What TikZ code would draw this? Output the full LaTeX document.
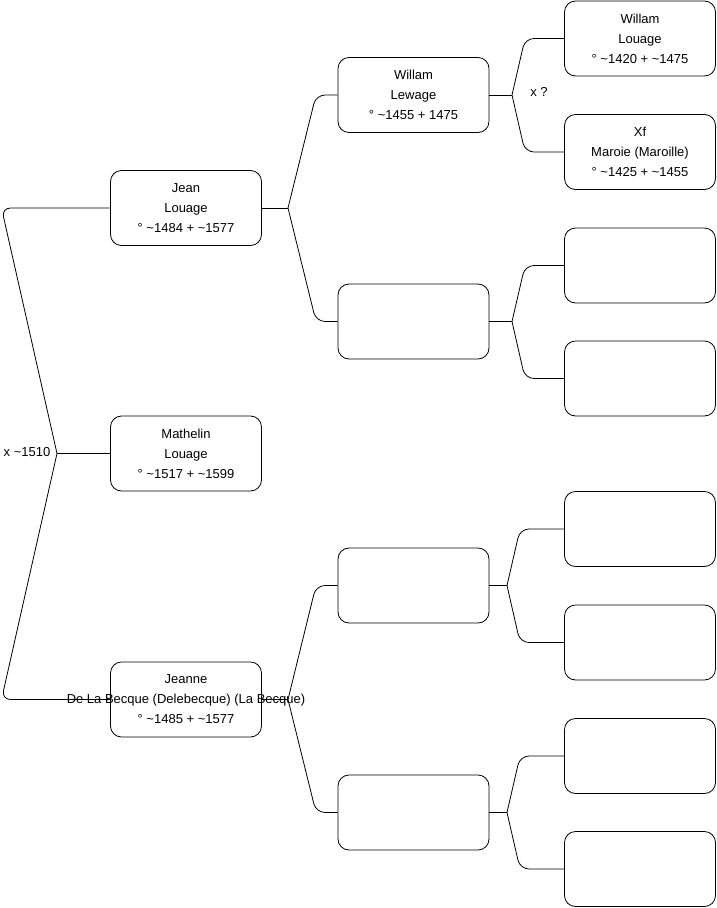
\documentclass[tikz,border=0pt]{standalone}
\usepackage{fontspec}
\setmainfont{Liberation Sans}
\begin{document}
\begin{tikzpicture}[x=1pt,y=-1pt,
 person/.style={draw, line width=0.8pt, rounded corners=11pt, minimum width=151pt, minimum height=75pt, align=center, font=\fontsize{13}{20}\selectfont, inner sep=0pt},
 link/.style={draw, line width=0.8pt, rounded corners=9pt},
 lbl/.style={font=\fontsize{13}{14}\selectfont, inner sep=0pt}]
\useasboundingbox (0,0) rectangle (716,908);
% level 1
\node[person] (j)  at (186,208)   {Jean\\Louage\\° \textasciitilde1484 + \textasciitilde1577};
\node[person] (m)  at (186,453.5) {Mathelin\\Louage\\° \textasciitilde1517 + \textasciitilde1599};
\node[person] (jn) at (186,699.5) {Jeanne\\\makebox[0pt][c]{De La Becque (Delebecque) (La Becque)}\\° \textasciitilde1485 + \textasciitilde1577};
% level 2
\node[person] (w)  at (413.5,95)    {Willam\\Lewage\\° \textasciitilde1455 + 1475};
\node[person] (b2) at (413.5,321.5) {};
\node[person] (b3) at (413.5,585.5) {};
\node[person] (b4) at (413.5,812.5) {};
% level 3
\node[person] (wl) at (640,38.5)  {Willam\\Louage\\° \textasciitilde1420 + \textasciitilde1475};
\node[person] (xf) at (640,152)   {Xf\\Maroie (Maroille)\\° \textasciitilde1425 + \textasciitilde1455};
\node[person] (c3) at (640,265.5) {};
\node[person] (c4) at (640,378.5) {};
\node[person] (c5) at (640,529)   {};
\node[person] (c6) at (640,642.5) {};
\node[person] (c7) at (640,756)   {};
\node[person] (c8) at (640,869)   {};
% root links
\coordinate (f0) at (57,453.5);
\draw[link] (m.west) -- (f0);
\draw[link] (f0) -- (1.5,208) -- (j.west);
\draw[link] (f0) -- (1.5,699.5) -- (jn.west);
\node[lbl] (x0) at (27,452) {x \textasciitilde1510};
% Jean
\coordinate (f1) at (288,208);
\draw[link] (j.east) -- (f1);
\draw[link] (f1) -- (316,95) -- (w.west);
\draw[link] (f1) -- (316,321.5) -- (b2.west);
% Jeanne
\coordinate (f2) at (288,699.5);
\draw[link] (jn.east) -- (f2);
\draw[link] (f2) -- (316,585.5) -- (b3.west);
\draw[link] (f2) -- (316,812.5) -- (b4.west);
% Willam
\coordinate (f3) at (512,95);
\draw[link] (w.east) -- (f3);
\draw[link] (f3) -- (525,38.5) -- (wl.west);
\draw[link] (f3) -- (525,152) -- (xf.west);
\node[lbl] (x1) at (539,92) {x ?};
% b2
\coordinate (f4) at (512,321.5);
\draw[link] (b2.east) -- (f4);
\draw[link] (f4) -- (525,265.5) -- (c3.west);
\draw[link] (f4) -- (525,378.5) -- (c4.west);
% b3
\coordinate (f5) at (507,585.5);
\draw[link] (b3.east) -- (f5);
\draw[link] (f5) -- (520,529) -- (c5.west);
\draw[link] (f5) -- (520,642.5) -- (c6.west);
% b4
\coordinate (f6) at (507,812.5);
\draw[link] (b4.east) -- (f6);
\draw[link] (f6) -- (520,756) -- (c7.west);
\draw[link] (f6) -- (520,869) -- (c8.west);
\end{tikzpicture}
\end{document}
